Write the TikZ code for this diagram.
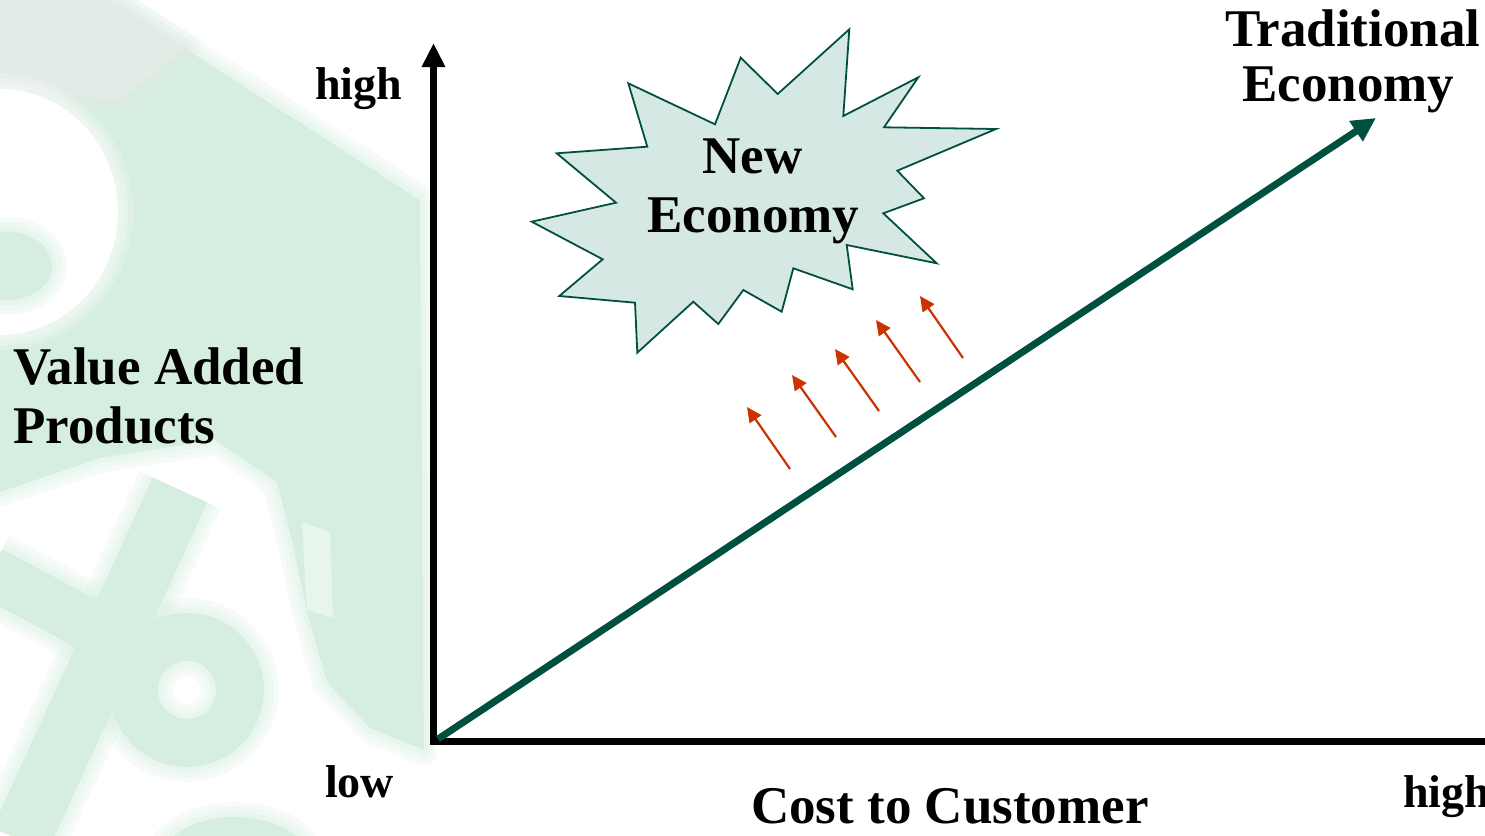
\documentclass[tikz,border=0pt]{standalone}
\usepackage{fontspec}
\setmainfont{Liberation Serif}
\usetikzlibrary{arrows.meta}
\definecolor{dkgreen}{RGB}{0,80,64}
\definecolor{burstfill}{RGB}{214,232,227}
\definecolor{redarr}{RGB}{204,51,0}
\definecolor{wm}{RGB}{214,238,224}
\definecolor{wmgrey}{RGB}{226,235,230}
\tikzset{
  bigtext/.style={font=\fontsize{53}{58}\selectfont\bfseries, inner sep=0pt, anchor=base west},
  smalltext/.style={font=\fontsize{46}{50}\selectfont\bfseries, inner sep=0pt, anchor=base west},
  axisline/.style={line width=6.5pt, black},
  axistip/.style={-{Triangle[length=24pt,width=22pt]}},
  trend/.style={line width=7pt, dkgreen, -{Triangle[length=24pt,width=23pt]}},
  push/.style={line width=2.2pt, redarr, -{Triangle[length=15pt,width=14pt]}},
  burst/.style={fill=burstfill, draw=dkgreen, line width=1.8pt, line join=miter},
}
% soft-edged fill: halo strokes then the fill
\newcommand\softfill[2]{%
  \foreach \w in {30,20,10}{\draw[#1, line width=\w pt, opacity=0.22, line join=round] #2;}
  \fill[#1] #2;}
\newcommand\softline[3]{%
  \foreach \w in {30,20,10}{\draw[#1, line width=#2 pt + \w pt, opacity=0.22] #3;}
  \draw[#1, line width=#2 pt] #3;}
\begin{document}
\begin{tikzpicture}[x=1pt,y=-1pt]
\useasboundingbox (0,0) rectangle (1485,835);
% ---------- faded watermark ----------
\softfill{wm}{(0,0) -- (110,0) -- (420,200) -- (424,750) -- (370,728) -- (327,682)
  -- (307,612) -- (293,545) -- (277,482) -- (215,440) -- (100,458) -- (0,492) -- cycle}
\softfill{wmgrey}{(0,0) -- (110,0) -- (185,48) -- (120,100) -- (0,88) -- cycle}
\softfill{white}{(0,212) ellipse (118 and 123)}
\softfill{wm}{(8,266) ellipse (44 and 34)}
\fill[white, opacity=0.45] (302,522) -- (330,532) -- (333,618) -- (307,610) -- cycle;
\softline{wm}{60}{(20,840) -- (180,490)}
\softline{wm}{52}{(-10,572) -- (140,652)}
\softline{wm}{48}{(187,690) circle (53)}
\softfill{wm}{(235,862) ellipse (75 and 45)}
\fill[white] (436,0) rectangle (1485,835);
% ---------- axes ----------
\coordinate (O) at (433.5,741.5);
\coordinate (Ybot) at (433.5,745);
\coordinate (Ytop) at (433.5,43);
\coordinate (Xleft) at (430.25,741.5);
\coordinate (Xright) at (1492,741.5);
\draw[axisline] (Xleft) -- (Xright);
\draw[axisline, axistip] (Ybot) -- (Ytop);
% ---------- trend ----------
\coordinate (G0) at (438,739);
\coordinate (G1) at (1376,118);
\draw[trend] (G0) -- (G1);
% ---------- starburst ----------
\draw[burst] (849.3,29.3) -- (843.3,116) -- (918.3,77.3) -- (884,127.3) -- (996,129)
  -- (897.3,170.7) -- (924,198.3) -- (883.3,213.3) -- (936.7,263.3) -- (846.7,245)
  -- (852.7,289.3) -- (793.3,268.3) -- (781.7,311.7) -- (743.3,290) -- (718.3,324)
  -- (693.3,301.7) -- (637.3,352.7) -- (635,302.7) -- (559.3,296) -- (602.7,259.3)
  -- (531.7,221.7) -- (616,202.7) -- (556.7,153.3) -- (647.3,146.7) -- (628.3,83.3)
  -- (715,124.3) -- (740.7,57.7) -- (777.7,94) -- cycle;
\node[bigtext] (new1) at (702,173) {New};
\node[bigtext] (new2) at (647,232) {Economy};
% ---------- red push arrows ----------
\coordinate (r1t) at (790,469); \coordinate (r1h) at (747,407);
\coordinate (r2t) at (836,437); \coordinate (r2h) at (792,375);
\coordinate (r3t) at (879,411); \coordinate (r3h) at (835,349);
\coordinate (r4t) at (920,382); \coordinate (r4h) at (876,320);
\coordinate (r5t) at (963,358); \coordinate (r5h) at (920,296);
\draw[push] (r1t) -- (r1h);
\draw[push] (r2t) -- (r2h);
\draw[push] (r3t) -- (r3h);
\draw[push] (r4t) -- (r4h);
\draw[push] (r5t) -- (r5h);
% ---------- labels ----------
\node[smalltext] (yhigh) at (315,99) {high};
\node[bigtext] (val1) at (13,384) {Value Added};
\node[bigtext] (val2) at (13,443) {Products};
\node[smalltext] (ylow) at (325,797) {low};
\node[bigtext] (xlab) at (751,823) {Cost to Customer};
\node[smalltext] (xhigh) at (1403,807) {high};
\node[bigtext] (trad1) at (1225,46) {Traditional};
\node[bigtext] (trad2) at (1242,101) {Economy};
\end{tikzpicture}
\end{document}
